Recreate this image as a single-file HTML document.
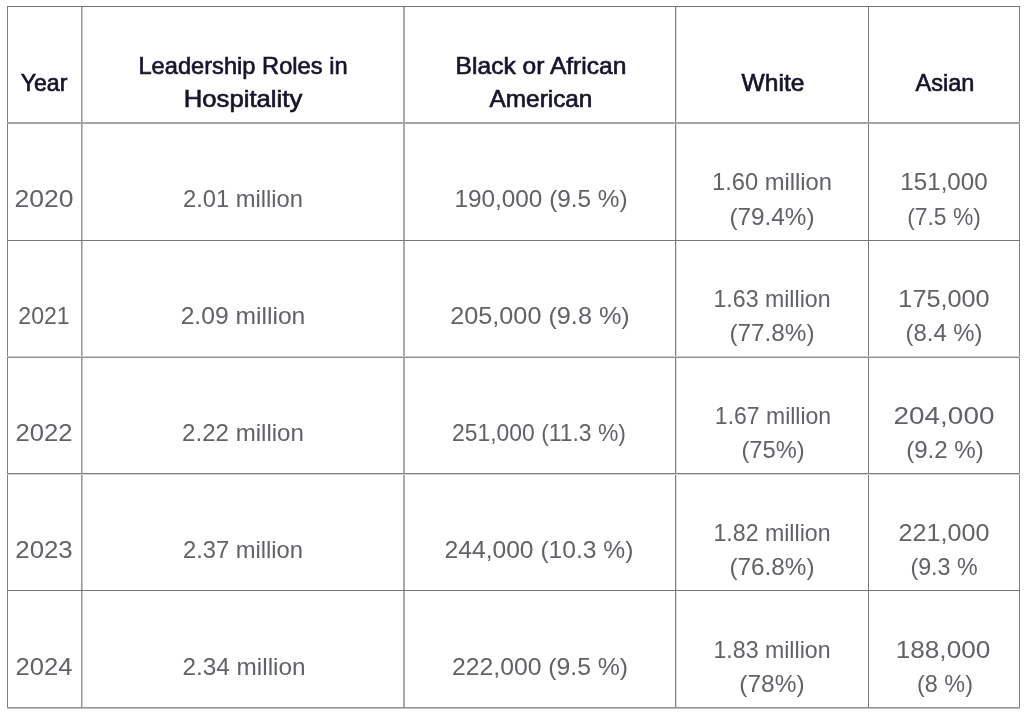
<!DOCTYPE html>
<html><head><meta charset="utf-8"><style>
html,body{margin:0;padding:0;background:#fff;}
body{width:1024px;height:716px;position:relative;overflow:hidden;font-family:"Liberation Sans",sans-serif;}
.v{position:absolute;top:6px;width:1px;height:703px;}
.h{position:absolute;left:7px;width:1013px;height:1px;}
#t{position:absolute;left:0;top:0;width:1024px;height:716px;will-change:transform;}
.th,.td{position:absolute;white-space:nowrap;font-size:24px;line-height:24px;}
.th{color:#15142c;-webkit-text-stroke:0.65px #15142c;}
.td{color:#616167;}
</style></head><body>
<div class="v" style="left:7px;background:#7f7f7f"></div>
<div class="v" style="left:81px;background:#969696"></div>
<div class="v" style="left:82px;background:#c4c4c4"></div>
<div class="v" style="left:403px;background:#a9a9a9"></div>
<div class="v" style="left:404px;background:#a9a9a9"></div>
<div class="v" style="left:675px;background:#7f7f7f"></div>
<div class="v" style="left:676px;background:#e0e0e0"></div>
<div class="v" style="left:868px;background:#7a7a7a"></div>
<div class="v" style="left:1019px;background:#808080"></div>
<div class="h" style="top:6px;background:#757575"></div>
<div class="h" style="top:122px;background:#a4a4a4"></div>
<div class="h" style="top:123px;background:#a4a4a4"></div>
<div class="h" style="top:240px;background:#767676"></div>
<div class="h" style="top:356px;background:#cccccc"></div>
<div class="h" style="top:357px;background:#8e8e8e"></div>
<div class="h" style="top:473px;background:#808080"></div>
<div class="h" style="top:474px;background:#d4d4d4"></div>
<div class="h" style="top:590px;background:#757575"></div>
<div class="h" style="top:707px;background:#959595"></div>
<div class="h" style="top:708px;background:#bcbcbc"></div>
<div id="t">
<div class="th" style="left:44.00px;top:70.98px;transform:translateX(-50%) scaleX(0.9626)">Year</div>
<div class="th" style="left:243.00px;top:53.98px;transform:translateX(-50%) scaleX(0.9857)">Leadership Roles in</div>
<div class="th" style="left:242.50px;top:87.18px;transform:translateX(-50%) scaleX(1.0710)">Hospitality</div>
<div class="th" style="left:541.00px;top:54.08px;transform:translateX(-50%) scaleX(1.0244)">Black or African</div>
<div class="th" style="left:541.00px;top:86.68px;transform:translateX(-50%) scaleX(1.0139)">American</div>
<div class="th" style="left:773.25px;top:70.78px;transform:translateX(-50%) scaleX(1.0232)">White</div>
<div class="th" style="left:945.00px;top:70.78px;transform:translateX(-50%) scaleX(0.9798)">Asian</div>
<div class="td" style="left:44.25px;top:187.48px;transform:translateX(-50%) scaleX(1.1061)">2020</div>
<div class="td" style="left:242.75px;top:187.48px;transform:translateX(-50%) scaleX(0.9882)">2.01 million</div>
<div class="td" style="left:541.00px;top:187.48px;transform:translateX(-50%) scaleX(1.0143)">190,000 (9.5 %)</div>
<div class="td" style="left:772.25px;top:170.38px;transform:translateX(-50%) scaleX(0.9883)">1.60 million</div>
<div class="td" style="left:772.00px;top:204.58px;transform:translateX(-50%) scaleX(1.0123)">(79.4%)</div>
<div class="td" style="left:943.50px;top:170.38px;transform:translateX(-50%) scaleX(1.0073)">151,000</div>
<div class="td" style="left:943.75px;top:204.58px;transform:translateX(-50%) scaleX(0.9517)">(7.5 %)</div>
<div class="td" style="left:44.25px;top:304.08px;transform:translateX(-50%) scaleX(0.9621)">2021</div>
<div class="td" style="left:243.25px;top:304.08px;transform:translateX(-50%) scaleX(1.0269)">2.09 million</div>
<div class="td" style="left:540.00px;top:304.08px;transform:translateX(-50%) scaleX(1.0512)">205,000 (9.8 %)</div>
<div class="td" style="left:772.00px;top:286.98px;transform:translateX(-50%) scaleX(0.9647)">1.63 million</div>
<div class="td" style="left:772.00px;top:321.18px;transform:translateX(-50%) scaleX(1.0123)">(77.8%)</div>
<div class="td" style="left:943.50px;top:286.98px;transform:translateX(-50%) scaleX(1.0521)">175,000</div>
<div class="td" style="left:943.75px;top:321.18px;transform:translateX(-50%) scaleX(0.9950)">(8.4 %)</div>
<div class="td" style="left:44.25px;top:420.78px;transform:translateX(-50%) scaleX(1.0673)">2022</div>
<div class="td" style="left:243.25px;top:420.78px;transform:translateX(-50%) scaleX(1.0034)">2.22 million</div>
<div class="td" style="left:539.25px;top:420.78px;transform:translateX(-50%) scaleX(0.9533)">251,000 (11.3 %)</div>
<div class="td" style="left:772.75px;top:403.68px;transform:translateX(-50%) scaleX(0.9577)">1.67 million</div>
<div class="td" style="left:772.50px;top:437.88px;transform:translateX(-50%) scaleX(0.9875)">(75%)</div>
<div class="td" style="left:944.00px;top:403.68px;transform:translateX(-50%) scaleX(1.1620)">204,000</div>
<div class="td" style="left:944.75px;top:437.88px;transform:translateX(-50%) scaleX(1.0028)">(9.2 %)</div>
<div class="td" style="left:44.25px;top:537.98px;transform:translateX(-50%) scaleX(1.0750)">2023</div>
<div class="td" style="left:242.75px;top:537.98px;transform:translateX(-50%) scaleX(0.9882)">2.37 million</div>
<div class="td" style="left:539.25px;top:537.98px;transform:translateX(-50%) scaleX(1.0255)">244,000 (10.3 %)</div>
<div class="td" style="left:772.00px;top:520.88px;transform:translateX(-50%) scaleX(0.9647)">1.82 million</div>
<div class="td" style="left:772.00px;top:555.08px;transform:translateX(-50%) scaleX(1.0123)">(76.8%)</div>
<div class="td" style="left:943.75px;top:520.88px;transform:translateX(-50%) scaleX(1.0471)">221,000</div>
<div class="td" style="left:943.75px;top:555.08px;transform:translateX(-50%) scaleX(0.9672)">(9.3 %</div>
<div class="td" style="left:44.25px;top:654.78px;transform:translateX(-50%) scaleX(1.0654)">2024</div>
<div class="td" style="left:243.50px;top:654.78px;transform:translateX(-50%) scaleX(1.0135)">2.34 million</div>
<div class="td" style="left:540.00px;top:654.78px;transform:translateX(-50%) scaleX(1.0308)">222,000 (9.5 %)</div>
<div class="td" style="left:772.00px;top:637.68px;transform:translateX(-50%) scaleX(0.9647)">1.83 million</div>
<div class="td" style="left:771.75px;top:671.88px;transform:translateX(-50%) scaleX(1.0198)">(78%)</div>
<div class="td" style="left:942.50px;top:637.68px;transform:translateX(-50%) scaleX(1.0905)">188,000</div>
<div class="td" style="left:944.75px;top:671.88px;transform:translateX(-50%) scaleX(0.9746)">(8 %)</div>
</div>
</body></html>
